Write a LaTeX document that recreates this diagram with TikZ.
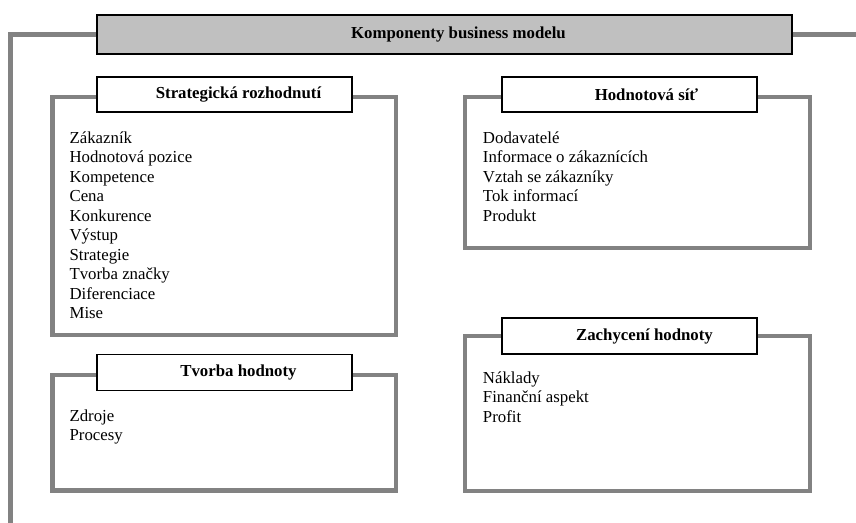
\documentclass[tikz,border=0pt]{standalone}
\usepackage{fontspec}
\setmainfont{Liberation Serif}
\definecolor{framegray}{RGB}{130,130,130}
\definecolor{headfill}{RGB}{192,192,192}
\begin{document}
\begin{tikzpicture}[x=0.75pt,y=-0.75pt,
  graybox/.style={draw=framegray,line width=3.4pt},
  trunk/.style={draw=framegray,line width=3.6pt},
  titlebox/.style={draw=black,line width=0.9pt,fill=white,minimum width=191.25pt,minimum height=26.25pt,inner sep=0pt,font=\fontsize{12.6}{14.6}\selectfont\bfseries},
  headbox/.style={titlebox,fill=headfill,minimum width=521.25pt,minimum height=29.25pt},
  listtext/.style={anchor=north west,inner sep=0pt,align=left,font=\fontsize{12.6}{14.6}\selectfont}]
\useasboundingbox (0,0) rectangle (856,523);

% header and trunk line
\node[headbox] (head) at (444.5,34.5) {\hspace*{21pt}Komponenty business modelu};
\coordinate (trunkend) at (10.5,523);
\coordinate (rightend) at (856,34.5);
\draw[trunk] (head.west) -| (trunkend);
\draw[trunk] (head.east) -- (rightend);

% frames
\draw[graybox] (52.5,97) rectangle (396,335);
\draw[graybox] (52.5,375) rectangle (396,490.5);
\draw[graybox] (465,97) rectangle (810,248);
\draw[graybox] (465,336) rectangle (810,491);

% titles
\node[titlebox] (strat) at (224.5,94.5) {\hspace*{21pt}Strategická rozhodnutí};
\node[titlebox,minimum height=27pt] (tvorba) at (224.5,372.5) {\hspace*{21pt}Tvorba hodnoty};
\node[titlebox] (sit) at (629.5,94.5) {\hspace*{25.5pt}Hodnotová síť};
\node[titlebox,minimum height=27pt] (zach) at (629.5,336) {\hspace*{22.5pt}Zachycení hodnoty};

% lists
\node[listtext] (stratlist) at (69.3,129.4) {\strut Zákazník\\Hodnotová pozice\\Kompetence\\Cena\\Konkurence\\Výstup\\Strategie\\Tvorba značky\\Diferenciace\\Mise};
\node[listtext] (tvorbalist) at (69.3,407.4) {\strut Zdroje\\Procesy};
\node[listtext] (sitlist) at (482.7,129.4) {\strut Dodavatelé\\Informace o zákaznících\\Vztah se zákazníky\\Tok informací\\Produkt};
\node[listtext] (zachlist) at (482.7,369.4) {\strut Náklady\\Finanční aspekt\\Profit};
\end{tikzpicture}
\end{document}
